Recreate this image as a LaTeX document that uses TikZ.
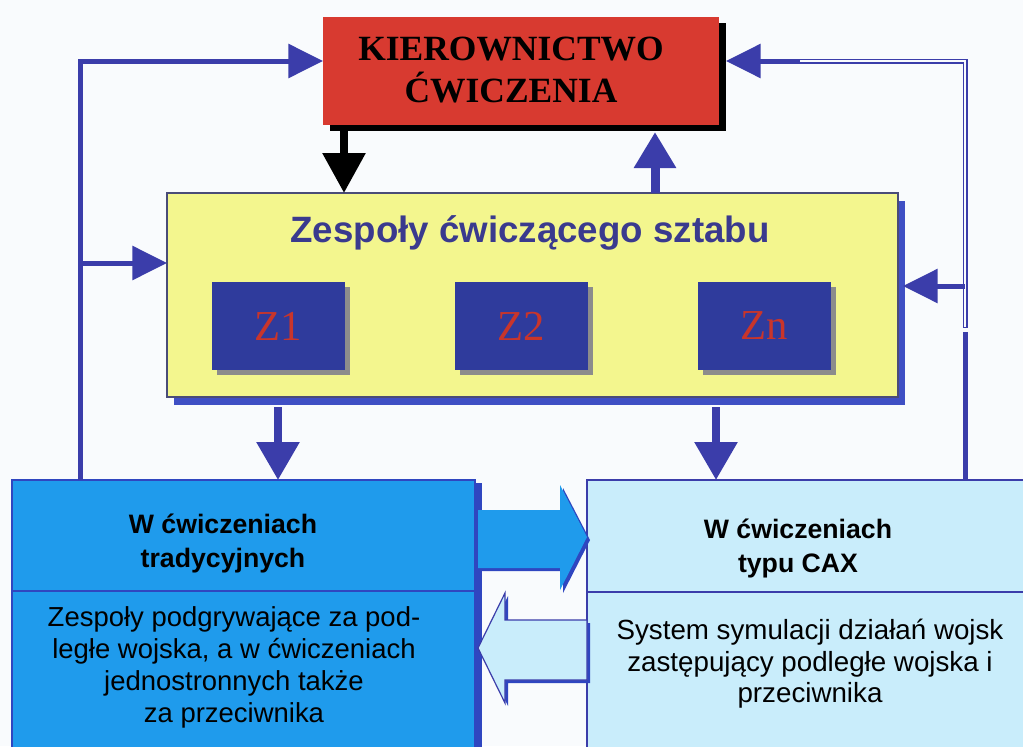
\documentclass[tikz,border=0pt]{standalone}
\usepackage{fontspec}
\setmainfont{Liberation Serif}
\setsansfont{Liberation Sans}
\usetikzlibrary{arrows.meta,fit,shadows,calc}

\definecolor{paper}{HTML}{F9FBFD}
\definecolor{linkblue}{HTML}{3B3DAA}
\definecolor{chiefred}{HTML}{D83A30}
\definecolor{staffyellow}{HTML}{F3F68E}
\definecolor{staffedge}{HTML}{4A4C78}
\definecolor{staffshadow}{HTML}{3F4FC4}
\definecolor{teamblue}{HTML}{2F3B9C}
\definecolor{teamred}{HTML}{C9352B}
\definecolor{titleblue}{HTML}{3A3A8E}
\definecolor{tradblue}{HTML}{1F9BEC}
\definecolor{caxcyan}{HTML}{C9EDFB}
\definecolor{edgeblue}{HTML}{2F46C0}

\tikzset{
  box/.style={inner sep=0pt, outer sep=0pt},
  chiefbox/.style={box, fill=chiefred,
    drop shadow={shadow xshift=5.5pt, shadow yshift=-4.5pt, fill=black, opacity=1}},
  staffbox/.style={box, fill=staffyellow, draw=staffedge, line width=0.8pt,
    drop shadow={shadow xshift=5pt, shadow yshift=-6pt, fill=staffshadow, opacity=1}},
  teambox/.style={box, fill=teamblue,
    drop shadow={shadow xshift=3.5pt, shadow yshift=-3.5pt, fill=black!45, opacity=1}},
  tradbox/.style={box, fill=tradblue, draw=edgeblue, line width=1.2pt,
    drop shadow={shadow xshift=5pt, shadow yshift=-2pt, fill=edgeblue, opacity=1}},
  caxbox/.style={box, fill=caxcyan, draw=linkblue, line width=1.2pt},
  chieftext/.style={font=\fontsize{26.6pt}{31.5pt}\selectfont\bfseries, align=center, text=black},
  stafftext/.style={font=\sffamily\bfseries\fontsize{27.5pt}{32pt}\selectfont, text=titleblue},
  teamtext/.style={font=\fontsize{32pt}{34pt}\selectfont, text=teamred},
  headtext/.style={font=\sffamily\bfseries\fontsize{20pt}{25.5pt}\selectfont, align=center, text=black},
  bodytext/.style={font=\sffamily\fontsize{20.6pt}{24pt}\selectfont, align=center, text=black},
  loopline/.style={draw=linkblue, line width=3.75pt},
  loophead/.style={-{Triangle[length=26pt, width=25pt]}},
  downarrow/.style={draw=linkblue, line width=6pt, -{Triangle[length=28.5pt, width=31pt]}},
  chiefarrow/.style={draw=black, line width=6pt, -{Triangle[length=30pt, width=31pt]}},
  reportarrow/.style={draw=linkblue, line width=6.75pt, -{Triangle[length=27pt, width=30pt]}},
}

\begin{document}
\begin{tikzpicture}[x=0.75pt, y=-0.75pt]
  % canvas
  \clip (0,0) rectangle (1023,746);
  \fill[paper] (0,0) rectangle (1023,746);

  % boxes
  \node[chiefbox, fit={(323,17)(719,125)}] (kier) {};
  \node[staffbox, fit={(167,193)(898,397)}] (zesp) {};
  \node[teambox, fit={(212,282)(345,370)}] (z1) {};
  \node[teambox, fit={(455,282)(588,370)}] (z2) {};
  \node[teambox, fit={(698,282)(831,370)}] (zn) {};
  \node[tradbox, fit={(12,480)(475,760)}] (trad) {};
  \node[caxbox, fit={(587,480)(1040,760)}] (cax) {};

  % section dividers in the two lower boxes
  \draw[edgeblue, line width=1.6pt] (trad.west |- 0,591) -- (trad.east |- 0,591);
  \draw[linkblue, line width=1.2pt] (cax.west |- 0,592) -- (cax.east |- 0,592);

  % texts
  \node[chieftext] (kiertxt) at (511,70) {KIEROWNICTWO\\ĆWICZENIA};
  \node[stafftext] (zesptxt) at (530,233) {Zespoły ćwiczącego sztabu};
  \node[teamtext] (z1txt) at (z1) {Z1};
  \node[teamtext] (z2txt) at (z2) {Z2};
  \node[teamtext] (zntxt) at (zn) {Zn};
  \node[headtext] (tradhead) at (223,543) {W ćwiczeniach\\tradycyjnych};
  \node[bodytext] (tradbody) at (234,667) {Zespoły podgrywające za pod-\\ległe wojska, a w ćwiczeniach\\jednostronnych także\\za przeciwnika};
  \node[headtext] (caxhead) at (798,548) {W ćwiczeniach\\typu CAX};
  \node[bodytext, font=\sffamily\fontsize{20.8pt}{23.6pt}\selectfont] (caxbody) at (810,664)
    {System symulacji działań wojsk\\zastępujący podległe wojska i\\przeciwnika};

  % guide positions for the connectors
  \coordinate (lx) at (80,61);
  \coordinate (rx) at (965,61);
  \coordinate (ly) at (0,263);
  \coordinate (ry) at (0,286);
  \coordinate (cx) at (344,0);
  \coordinate (ux) at (655,0);
  \coordinate (dl) at (278,0);
  \coordinate (dr) at (716,0);

  % command flow
  \draw[chiefarrow] ($(kier.south -| cx)+(0,4)$) -- (zesp.north -| cx);
  \draw[reportarrow] (zesp.north -| ux) -- ($(kier.south -| ux)+(0,7)$);
  \draw[downarrow] ($(zesp.south -| dl)+(0,10)$) -- (trad.north -| dl);
  \draw[downarrow] ($(zesp.south -| dr)+(0,10)$) -- (cax.north -| dr);

  % left feedback loop
  \draw[loopline, loophead] (trad.north -| lx) -- (lx) -- (kier.west |- lx);
  \draw[loopline, loophead] (lx |- ly) -- (zesp.west |- ly);

  % right feedback loop (upper part drawn hollow)
  \draw[loopline, loophead] (cax.north -| rx) -- (rx) -- ($(kier.east |- rx)+(7,0)$);
  \draw[paper, line width=1.6pt] (800,61) -- (rx) -- (965,327);
  \draw[paper, line width=4.5pt] (965,328) -- (965,332);
  \draw[loopline, loophead] (rx |- ry) -- ($(zesp.east |- ry)+(5,0)$);

  % exchange between the two kinds of exercise
  \coordinate (rtip) at (cax.west |- 0,537);
  \fill[edgeblue] ($(rtip)+(3,3)$) -- ++(-27,-52) -- ++(0,25) -- ++(-82,0) -- ++(0,58)
    -- ++(82,0) -- ++(0,22) -- cycle;
  \fill[tradblue] (rtip) -- ++(-27,-52) -- ++(0,25) -- ++(-82,0) -- ++(0,58)
    -- ++(82,0) -- ++(0,22) -- cycle;
  \coordinate (ltip) at ($(trad.east |- 0,648)+(3,0)$);
  \fill[edgeblue] ($(ltip)+(3,3)$) -- ++(27,-55) -- ++(0,27) -- ++(82,0) -- ++(0,60)
    -- ++(-82,0) -- ++(0,23) -- cycle;
  \filldraw[fill=caxcyan, draw=linkblue, line width=0.9pt]
    (ltip) -- ++(27,-55) -- ++(0,27) -- ++(82,0) -- ++(0,60)
    -- ++(-82,0) -- ++(0,23) -- cycle;
\end{tikzpicture}
\end{document}
